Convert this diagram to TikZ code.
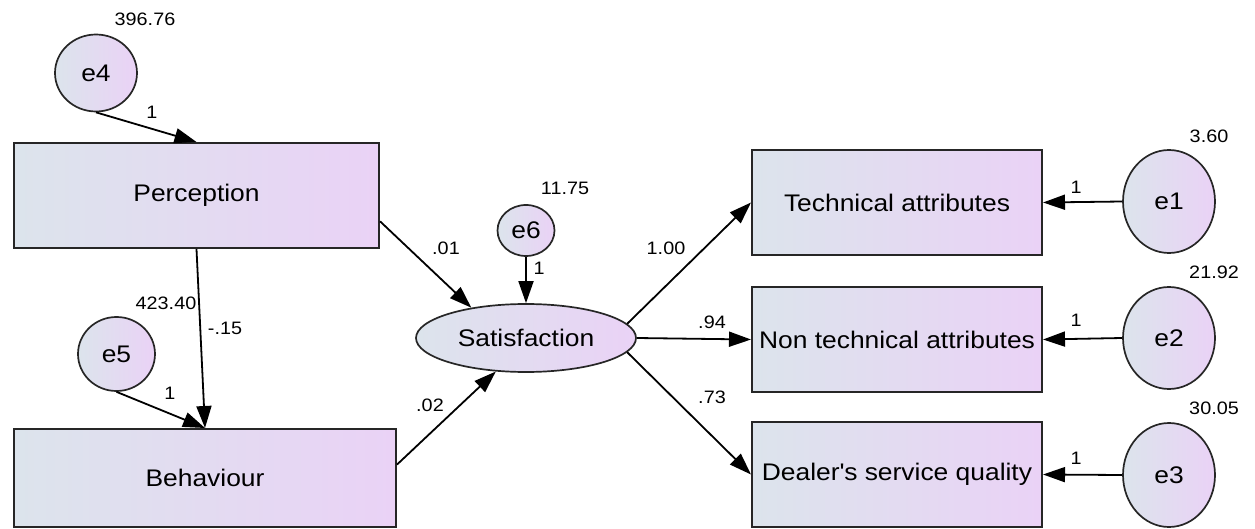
\documentclass[tikz,border=0pt]{standalone}
\usepackage{fontspec}
\setmainfont{Liberation Sans}[FakeStretch=1.1]
\usetikzlibrary{arrows.meta,shapes.geometric}
\definecolor{lc}{RGB}{220,228,236}
\definecolor{rc}{RGB}{234,210,246}
\begin{document}
\begin{tikzpicture}[x=1pt,y=-1pt,
  box/.style={rectangle, draw=black!85, line width=2pt, left color=lc, right color=rc, inner sep=0pt, font=\fontsize{24}{26}\selectfont},
  err/.style={ellipse, draw=black!85, line width=1.7pt, left color=lc, right color=rc, inner sep=0pt, font=\fontsize{24}{26}\selectfont},
  arr/.style={-{Triangle[length=22pt,width=15pt]}, line width=1.8pt},
  lbl/.style={font=\fontsize{18}{19}\selectfont, inner sep=0pt}]
\useasboundingbox (0,0) rectangle (1255,529);
% nodes
\node[box, minimum width=365pt, minimum height=105pt] (P) at (196.5,195.5) {Perception};
\node[box, minimum width=382pt, minimum height=98pt] (B) at (205,478) {Behaviour};
\node[err, minimum width=220pt, minimum height=68pt] (S) at (526,338) {Satisfaction};
\node[err, minimum width=82pt, minimum height=77pt] (e4) at (96,73) {e4};
\node[err, minimum width=77pt, minimum height=74pt] (e5) at (116.5,354) {e5};
\node[err, minimum width=57pt, minimum height=51pt] (e6) at (526,230.5) {e6};
\node[box, minimum width=290pt, minimum height=105pt] (T) at (897,202.5) {Technical attributes};
\node[box, minimum width=290pt, minimum height=105pt] (N) at (897,339.5) {Non technical attributes};
\node[box, minimum width=290pt, minimum height=105pt] (D) at (897,474.5) {Dealer\textquotesingle s service quality};
\node[err, minimum width=92pt, minimum height=103pt] (e1) at (1169,201.5) {e1};
\node[err, minimum width=92pt, minimum height=102pt] (e2) at (1169,338) {e2};
\node[err, minimum width=92pt, minimum height=104pt] (e3) at (1169,475) {e3};
% connectors
\draw[arr] (e4.south) -- (P.north);
\draw[arr] (P.south) -- (B.north);
\draw[arr] (e5.south) -- (B.north);
\draw[arr] (e6.south) -- (S.north);
\draw[arr] (P.-8) -- (S.151);
\draw[arr] (B.4) -- (S.228);
\draw[arr] (S.8) -- (T.west);
\draw[arr] (S.east) -- (N.west);
\draw[arr] (S.-8) -- (D.west);
\draw[arr] (e1.west) -- (T.east);
\draw[arr] (e2.west) -- (N.east);
\draw[arr] (e3.west) -- (D.east);
% labels
\node[lbl] (l396) at (145,19) {396.76};
\node[lbl] (l1a) at (152,112) {1};
\node[lbl] (l423) at (166,303) {423.40};
\node[lbl] (l15) at (225,328) {-.15};
\node[lbl] (l1b) at (170,393) {1};
\node[lbl] (l01) at (446,248) {.01};
\node[lbl] (l02) at (430,405) {.02};
\node[lbl] (l1175) at (565,188) {11.75};
\node[lbl] (l1c) at (539,268) {1};
\node[lbl] (l100) at (666,248) {1.00};
\node[lbl] (l94) at (712,322) {.94};
\node[lbl] (l73) at (712,397) {.73};
\node[lbl] (l360) at (1209,136) {3.60};
\node[lbl] (l2192) at (1214,272) {21.92};
\node[lbl] (l3005) at (1214,408) {30.05};
\node[lbl] (l1d) at (1076,187) {1};
\node[lbl] (l1e) at (1076,320) {1};
\node[lbl] (l1f) at (1076,458) {1};
\end{tikzpicture}
\end{document}
